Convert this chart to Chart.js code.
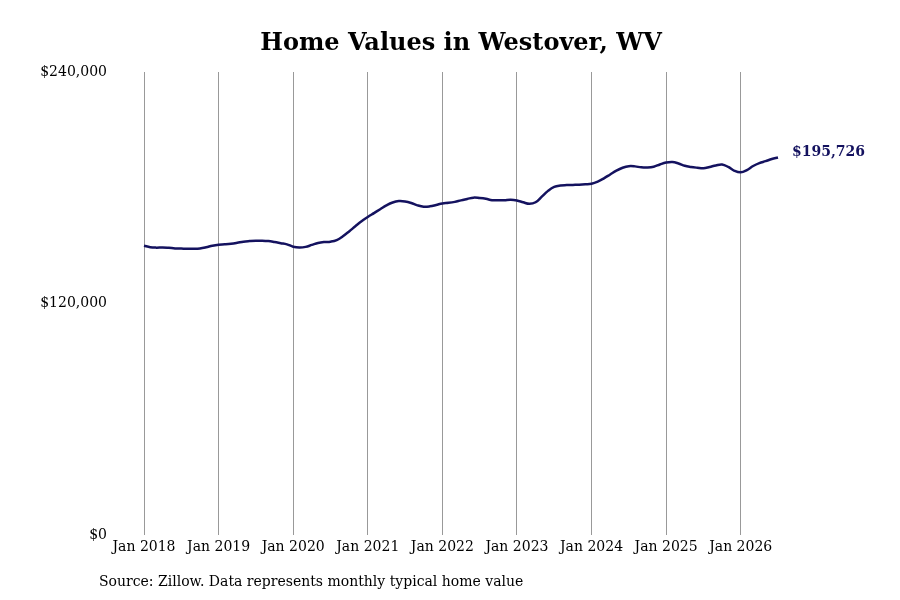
<!DOCTYPE html>
<html>
<head>
<meta charset="utf-8">
<script src="https://cdn.jsdelivr.net/npm/chart.js@4"></script>
<style>
  body { margin: 0; background: #fff; }
  #wrap { width: 900px; height: 600px; }
</style>
</head>
<body>
<div id="wrap"><canvas id="homeChart"></canvas></div>
<script>
// monthly typical home value, Jan 2018 .. Jul 2026 (thousands of dollars)
const years = [2018, 2019, 2020, 2021, 2022, 2023, 2024, 2025, 2026];
const monthNames = ['Jan','Feb','Mar','Apr','May','Jun','Jul','Aug','Sep','Oct','Nov','Dec'];
const values = [
  150.0,149.2,149.0,149.1,148.9,148.6,148.5,148.4,148.4,148.6,149.2,150.0,
  150.5,150.7,151.0,151.5,152.1,152.4,152.6,152.6,152.4,151.9,151.3,150.7,
  149.5,149.1,149.4,150.4,151.4,151.9,152.1,152.9,154.9,157.4,160.1,162.7,
  164.9,166.9,168.9,170.9,172.4,173.1,172.9,172.1,170.9,170.2,170.4,171.1,
  171.9,172.2,172.7,173.5,174.2,174.9,174.7,174.3,173.6,173.5,173.6,173.8,
  173.4,172.5,171.7,172.5,175.4,178.4,180.5,181.2,181.4,181.5,181.6,181.8,
  182.1,183.2,184.9,186.9,188.9,190.4,191.2,191.1,190.6,190.5,190.9,192.1,
  193.1,193.4,192.6,191.4,190.8,190.4,190.1,190.8,191.6,192.1,190.8,188.8,
  188.0,189.2,191.3,192.8,193.8,194.9,195.726
];
const yTicks = [0, 120000, 240000];
const titleText = 'Home Values in Westover, WV';
const lastLabel = '$195,726';
const sourceText = 'Source: Zillow. Data represents monthly typical home value';

const labels = [];
years.forEach(y => monthNames.forEach(m => labels.push(m + ' ' + y)));
labels.length = values.length;

const serif = '"DejaVu Serif", serif';
const navy = '#14125f';

const extras = {
  id: 'extras',
  afterDraw(chart) {
    const ctx = chart.ctx;
    const meta = chart.getDatasetMeta(0);
    const pt = meta.data[meta.data.length - 1];
    ctx.save();
    ctx.textBaseline = 'middle';
    ctx.fillStyle = '#000';
    ctx.font = 'bold 24px ' + serif;
    ctx.textAlign = 'center';
    ctx.fillText(titleText, 461, 44);
    ctx.textAlign = 'left';
    ctx.fillStyle = navy;
    ctx.font = 'bold 14px ' + serif;
    ctx.fillText(lastLabel, pt.x + 14, pt.y - 5);
    ctx.fillStyle = '#000';
    ctx.font = '14px ' + serif;
    ctx.fillText(sourceText, 99, 582);
    ctx.restore();
  }
};

new Chart(document.getElementById('homeChart'), {
  type: 'line',
  data: {
    labels: labels,
    datasets: [{
      data: values.map(v => v * 1000),
      borderColor: navy,
      borderWidth: 2.5,
      pointRadius: 0,
      tension: 0.4,
      fill: false
    }]
  },
  options: {
    responsive: true,
    maintainAspectRatio: false,
    animation: false,
    layout: { padding: { left: 0, right: 122, top: 72, bottom: 40 } },
    plugins: {
      legend: { display: false },
      tooltip: { enabled: false },
      title: { display: false }
    },
    scales: {
      x: {
        offset: false,
        border: { display: false },
        grid: {
          drawTicks: false,
          color: c => (c.tick && c.tick.value % 12 === 0) ? '#999' : 'transparent'
        },
        ticks: {
          autoSkip: false,
          maxRotation: 0,
          padding: 4,
          color: '#000',
          font: { family: serif, size: 14 },
          callback: (v, i) => i % 12 === 0 ? labels[i] : null
        }
      },
      y: {
        min: 0,
        max: 240000,
        border: { display: false },
        grid: { display: false },
        afterFit: s => { s.width = 144; },
        afterBuildTicks: s => { s.ticks = yTicks.map(v => ({ value: v })); },
        ticks: {
          color: '#000',
          padding: 29,
          font: { family: serif, size: 14 },
          callback: v => '$' + v.toLocaleString('en-US')
        }
      }
    }
  },
  plugins: [extras]
});
</script>
</body>
</html>
